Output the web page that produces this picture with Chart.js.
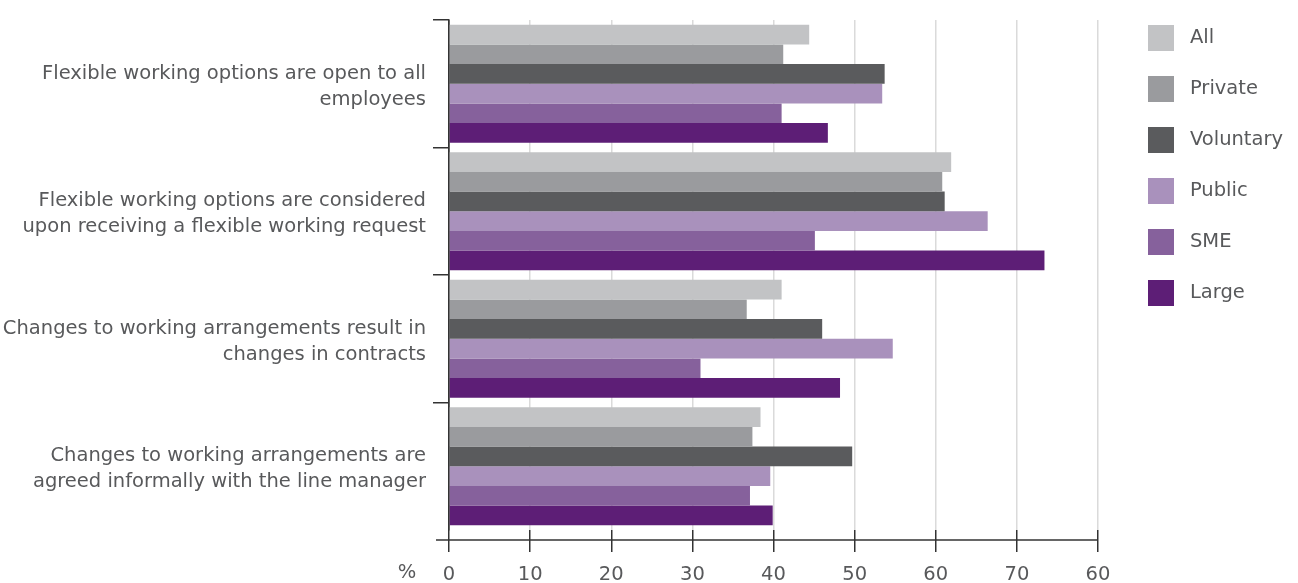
<!DOCTYPE html>
<html>
<head>
<meta charset="utf-8">
<script src="https://cdn.jsdelivr.net/npm/chart.js@4/dist/chart.umd.min.js"></script>
<style>
  html, body { margin: 0; padding: 0; background: #ffffff; }
  #wrap { width: 1298px; height: 583px; }
</style>
</head>
<body>
<div id="wrap"><canvas id="c" width="1298" height="583"></canvas></div>
<script>
const categories = [
  ['Flexible working options are open to all', 'employees'],
  ['Flexible working options are considered', 'upon receiving a flexible working request'],
  ['Changes to working arrangements result in', 'changes in contracts'],
  ['Changes to working arrangements are', 'agreed informally with the line manager']
];
const seriesNames = ['All', 'Private', 'Voluntary', 'Public', 'SME', 'Large'];
const allValues       = [44.4, 61.9, 41.0, 38.4];
const privateValues   = [41.2, 60.8, 36.7, 37.4];
const voluntaryValues = [53.7, 61.1, 46.0, 49.7];
const publicValues    = [53.4, 66.4, 54.7, 39.6];
const smeValues       = [41.0, 45.1, 31.0, 37.1];
const largeValues     = [46.7, 73.4, 48.2, 39.9];
const xTickLabels = ['0', '10', '20', '30', '40', '50', '60', '70', '60'];
const axisUnit = '%';

const seriesValues = [allValues, privateValues, voluntaryValues, publicValues, smeValues, largeValues];
const seriesColors = ['#c2c3c5', '#9a9b9e', '#5a5b5d', '#a991bc', '#86619c', '#5d1e76'];
const textColor = '#58595b';
const FONT = '"DejaVu Sans", "Open Sans", sans-serif';
const FS = 19.5;

const axisExtras = {
  id: 'axisExtras',
  afterDraw(chart) {
    const ctx = chart.ctx;
    const a = chart.chartArea;
    const xs = chart.scales.x;
    ctx.save();
    ctx.strokeStyle = '#333333';
    ctx.lineWidth = 1.5;
    ctx.beginPath();
    ctx.moveTo(a.left - 13, a.bottom + 10);
    ctx.lineTo(a.right, a.bottom + 10);
    ctx.stroke();
    ctx.fillStyle = textColor;
    ctx.font = FS + 'px ' + FONT;
    ctx.textAlign = 'center';
    ctx.textBaseline = 'top';
    ctx.fillText(axisUnit, a.left - 42, xs.top + 22 + 11);
    ctx.restore();
  }
};

new Chart(document.getElementById('c'), {
  type: 'bar',
  data: {
    labels: categories,
    datasets: seriesNames.map((name, i) => ({
      label: name,
      data: seriesValues[i],
      xAxisID: 'x',
      yAxisID: 'y',
      backgroundColor: seriesColors[i],
      borderWidth: 0,
      barPercentage: 1.0,
      categoryPercentage: 0.925
    }))
  },
  options: {
    indexAxis: 'y',
    responsive: false,
    devicePixelRatio: 1,
    animation: false,
    layout: { padding: { left: 0, right: 5, top: 0, bottom: 0 } },
    plugins: {
      tooltip: { enabled: false },
      legend: {
        position: 'right',
        align: 'start',
        labels: {
          boxWidth: 26,
          boxHeight: 26,
          padding: 25,
          color: textColor,
          font: { family: FONT, size: FS },
          generateLabels(chart) {
            const items = Chart.defaults.plugins.legend.labels.generateLabels(chart);
            items.forEach(it => { it.text = '\u00a0' + it.text; it.lineWidth = 0; });
            return items;
          }
        }
      }
    },
    scales: {
      x: {
        type: 'linear',
        position: 'bottom',
        min: 0,
        max: 80,
        border: { display: false },
        grid: {
          color: (c) => (c.tick && c.tick.value === 0) ? '#333333' : '#dadada',
          lineWidth: 1.5,
          tickColor: '#333333',
          tickLength: 22
        },
        ticks: {
          stepSize: 10,
          padding: 11,
          color: textColor,
          font: { family: FONT, size: FS },
          callback: (v, i) => xTickLabels[i]
        },
        afterFit: (s) => { s.height = 53; s.paddingLeft = 0; s.paddingRight = 0; }
      },
      xTop: {
        type: 'linear',
        position: 'top',
        axis: 'x',
        display: true,
        grid: { display: false },
        border: { display: false },
        ticks: { display: false },
        afterFit: (s) => { s.height = 20; }
      },
      yRight: {
        type: 'linear',
        position: 'right',
        axis: 'y',
        display: true,
        grid: { display: false },
        border: { display: false },
        ticks: { display: false },
        afterFit: (s) => { s.width = 25; s.paddingTop = 0; s.paddingBottom = 0; }
      },
      y: {
        type: 'category',
        position: 'left',
        border: { display: true, color: '#333333', width: 1.5 },
        grid: {
          offset: true,
          drawOnChartArea: false,
          drawTicks: true,
          tickLength: 16,
          color: (c) => c.tick ? '#333333' : 'rgba(0,0,0,0)',
          lineWidth: 1.5
        },
        ticks: {
          padding: 7,
          labelOffset: 3,
          color: textColor,
          font: { family: FONT, size: FS, lineHeight: 1.33 }
        },
        afterFit: (s) => { s.width = 449; s.paddingTop = 0; s.paddingBottom = 0; }
      }
    }
  },
  plugins: [axisExtras]
});
</script>
</body>
</html>
